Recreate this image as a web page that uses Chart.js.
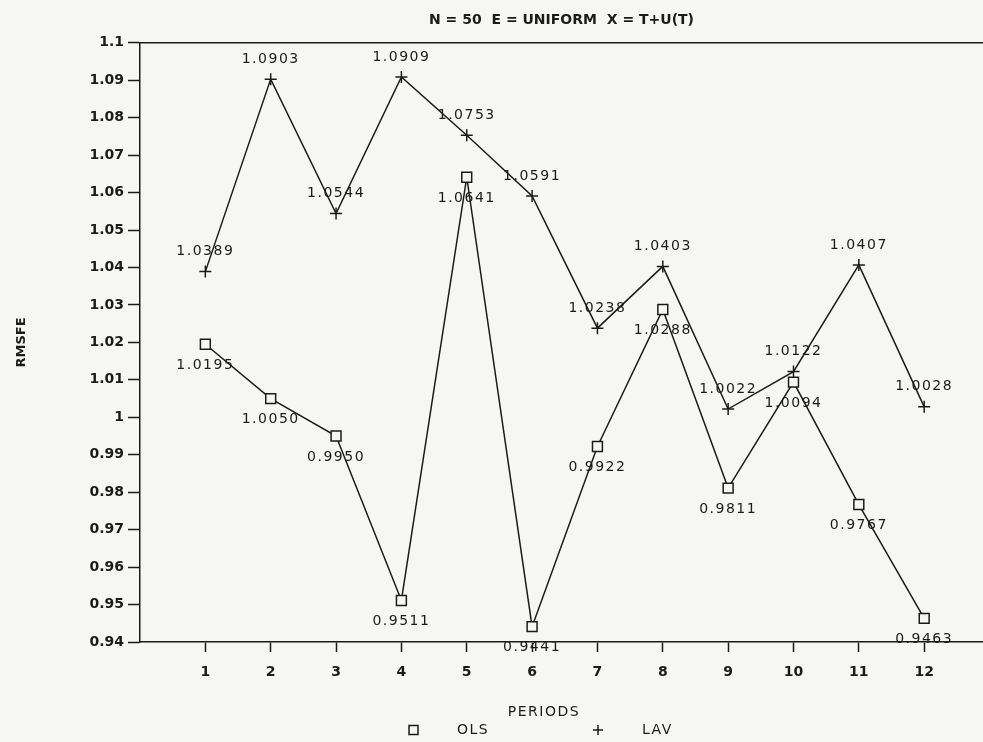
<!DOCTYPE html>
<html>
<head>
<meta charset="utf-8">
<script src="https://cdn.jsdelivr.net/npm/chart.js@4.4.1/dist/chart.umd.min.js"></script>
<style>
  body { margin: 0; background: #f6f6f4; }
  #wrap { width: 983px; height: 742px; }
</style>
</head>
<body>
<div id="wrap"><canvas id="rmsfeChart" width="983" height="742"></canvas></div>
<script>
const periods = [1, 2, 3, 4, 5, 6, 7, 8, 9, 10, 11, 12];
const olsValues = [1.0195, 1.0050, 0.9950, 0.9511, 1.0641, 0.9441, 0.9922, 1.0288, 0.9811, 1.0094, 0.9767, 0.9463];
const lavValues = [1.0389, 1.0903, 1.0544, 1.0909, 1.0753, 1.0591, 1.0238, 1.0403, 1.0022, 1.0122, 1.0407, 1.0028];
const yTicks = [1.1, 1.09, 1.08, 1.07, 1.06, 1.05, 1.04, 1.03, 1.02, 1.01, 1, 0.99, 0.98, 0.97, 0.96, 0.95, 0.94];

const ink = '#1b1b1b';
const fontName = '"DejaVu Sans", sans-serif';

const toPoints = (vals) => vals.map((v, i) => ({ x: periods[i], y: v }));

// value labels, PERIODS caption, legend and the top frame line
const decorPlugin = {
  id: 'decor',
  beforeDraw(chart) {
    const ctx = chart.ctx;
    ctx.save();
    ctx.fillStyle = '#f6f6f4';
    ctx.fillRect(0, 0, chart.width, chart.height);
    ctx.restore();
  },
  afterDraw(chart) {
    const ctx = chart.ctx;
    const area = chart.chartArea;
    ctx.save();
    ctx.strokeStyle = ink;
    ctx.lineWidth = 1.5;
    ctx.beginPath();
    ctx.moveTo(area.left, area.top);
    ctx.lineTo(area.right, area.top);
    ctx.stroke();

    ctx.fillStyle = ink;
    ctx.font = '14px ' + fontName;
    ctx.letterSpacing = '1.5px';
    ctx.textAlign = 'center';
    ctx.textBaseline = 'middle';
    chart.data.datasets.forEach((ds, i) => {
      const meta = chart.getDatasetMeta(i);
      meta.data.forEach((pt, j) => {
        ctx.fillText(ds.data[j].y.toFixed(4), pt.x, pt.y + ds.labelOffset);
      });
    });

    // axis caption
    ctx.fillText('PERIODS', area.left + 404, 712);

    // legend
    const ly = 730;
    ctx.textAlign = 'left';
    ctx.fillText('OLS', area.left + 317, ly);
    ctx.fillText('LAV', area.left + 502, ly);
    ctx.lineWidth = 1.5;
    ctx.strokeRect(area.left + 269, ly - 4.5, 9, 9);
    ctx.beginPath();
    ctx.moveTo(area.left + 458, ly - 5);
    ctx.lineTo(area.left + 458, ly + 5);
    ctx.moveTo(area.left + 453, ly);
    ctx.lineTo(area.left + 463, ly);
    ctx.stroke();
    ctx.restore();
  }
};

const chartData = {
  datasets: [
    {
      label: 'OLS',
      data: toPoints(olsValues),
      borderColor: ink,
      borderWidth: 1.5,
      pointStyle: 'rect',
      pointRadius: 7,
      pointBorderWidth: 1.5,
      pointBorderColor: ink,
      pointBackgroundColor: '#f6f6f4',
      tension: 0,
      labelOffset: 21
    },
    {
      label: 'LAV',
      data: toPoints(lavValues),
      borderColor: ink,
      borderWidth: 1.5,
      pointStyle: 'cross',
      pointRadius: 6,
      pointBorderWidth: 1.5,
      pointBorderColor: ink,
      tension: 0,
      labelOffset: -20
    }
  ]
};

const chartConfig = {
  type: 'line',
  data: chartData,
  options: {
    responsive: false,
    animation: false,
    layout: { padding: 0, autoPadding: false },
    plugins: {
      legend: { display: false },
      tooltip: { enabled: false },
      title: {
        display: true,
        fullSize: false,
        text: 'N = 50  E = UNIFORM  X = T+U(T)',
        color: ink,
        font: { family: fontName, size: 14 },
        padding: { top: 12, bottom: 14 }
      }
    },
    scales: {
      x: {
        type: 'linear',
        min: 0,
        max: 12.9,
        afterBuildTicks: (s) => { s.ticks = periods.map(p => ({ value: p })); },
        afterFit: (s) => { s.height = 100; s.paddingLeft = 0; s.paddingRight = 0; },
        border: { display: true, color: ink, width: 1.5 },
        grid: { drawOnChartArea: false, drawTicks: true, tickLength: 10, tickColor: ink, tickWidth: 1.5 },
        ticks: {
          color: ink,
          padding: 12,
          maxRotation: 0,
          autoSkip: false,
          font: { family: fontName, size: 14, weight: 'bold' },
          callback: (v) => String(v)
        }
      },
      y: {
        min: 0.94,
        max: 1.1,
        afterBuildTicks: (s) => { s.ticks = yTicks.map(v => ({ value: v })); },
        afterFit: (s) => { s.width = 140; },
        border: { display: true, color: ink, width: 1.5 },
        grid: { drawOnChartArea: false, drawTicks: true, tickLength: 12, tickColor: ink, tickWidth: 1.5 },
        ticks: {
          color: ink,
          padding: 4,
          autoSkip: false,
          font: { family: fontName, size: 14, weight: 'bold' },
          callback: (v) => String(Number(v.toFixed(2)))
        },
        title: {
          display: true,
          text: 'RMSFE',
          color: ink,
          font: { family: fontName, size: 13, weight: 'bold' },
          padding: { top: 14, bottom: 0 }
        }
      }
    }
  },
  plugins: [decorPlugin]
};

const rmsfeChart = new Chart(document.getElementById('rmsfeChart').getContext('2d'), chartConfig);
</script>
</body>
</html>
